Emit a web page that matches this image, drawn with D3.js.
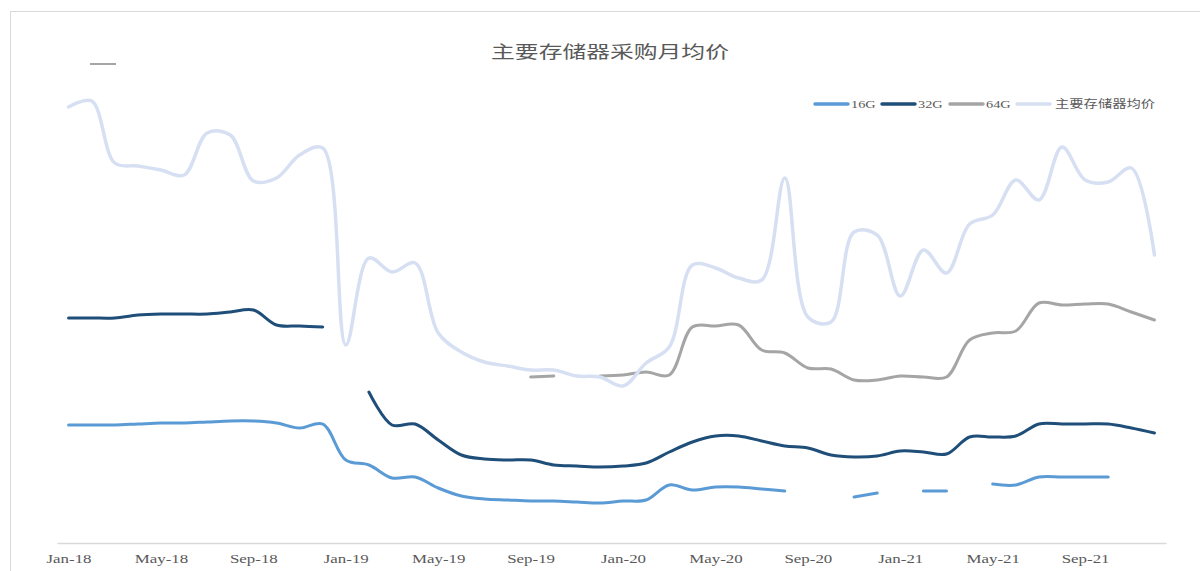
<!DOCTYPE html>
<html>
<head>
<meta charset="utf-8">
<script src="https://cdn.jsdelivr.net/npm/d3@7"></script>
<style>
  body { margin: 0; background: #fff; }
  svg { display: block; }
  text { font-family: "Liberation Serif", "Noto Sans CJK SC", serif; fill: #595959; }
</style>
</head>
<body>
<svg width="1200" height="571"></svg>
<script>
// month categories, Jan-18 .. Dec-21
const months = [
  "Jan-18","Feb-18","Mar-18","Apr-18","May-18","Jun-18","Jul-18","Aug-18","Sep-18","Oct-18","Nov-18","Dec-18",
  "Jan-19","Feb-19","Mar-19","Apr-19","May-19","Jun-19","Jul-19","Aug-19","Sep-19","Oct-19","Nov-19","Dec-19",
  "Jan-20","Feb-20","Mar-20","Apr-20","May-20","Jun-20","Jul-20","Aug-20","Sep-20","Oct-20","Nov-20","Dec-20",
  "Jan-21","Feb-21","Mar-21","Apr-21","May-21","Jun-21","Jul-21","Aug-21","Sep-21","Oct-21","Nov-21","Dec-21"
];
const tickLabels = ["Jan-18","May-18","Sep-18","Jan-19","May-19","Sep-19","Jan-20","May-20","Sep-20","Jan-21","May-21","Sep-21"];

// series values (null = no data that month)
const price16G = [
  118,118,118,119,120,120,121,122,122,120,115,119,
  83,78,65,66,55,47,44,43,42,42,41,40,
  42,43,58,53,56,56,54,52,null,null,46,50,
  null,52,52,null,59,58,66,66,66,66,null,null
];
const price32G = [
  225,225,225,228,229,229,229,231,233,218,217,216,
  null,151,118,119,103,88,84,83,83,78,77,76,
  77,80,91,101,107,107,102,97,95,88,86,87,
  92,91,89,106,106,107,119,119,119,119,115,110
];
const price64G = [
  null,null,null,null,null,null,null,null,null,null,null,null,
  null,null,null,null,null,null,null,null,166,167,null,167,
  168,171,168,216,217,218,193,190,175,174,163,163,
  167,166,166,203,210,212,240,238,239,239,231,223
];
const priceAvg = [
  436,442,380,377,373,368,410,408,362,365,388,395,
  198,285,271,280,210,191,181,177,173,173,167,166,
  157,180,196,278,275,265,263,365,226,221,311,308,
  247,293,270,319,328,363,343,396,363,361,375,288
];

const seriesNames = ["16G", "32G", "64G", "主要存储器均价"];
const seriesValues = [price16G, price32G, price64G, priceAvg];
const colors = ["#5b9bd5", "#1f4e79", "#a5a5a5", "#d6e0f2"];
const widths = [3, 3, 3, 3.5];

const svg = d3.select("svg");
const stretch = "scale(1.3,1)";

// chart frame
svg.append("rect")
  .attr("x", 10.5).attr("y", 11.5)
  .attr("width", 1200).attr("height", 600)
  .attr("fill", "none").attr("stroke", "#d9d9d9");

const x = d3.scalePoint().domain(months).range([57, 1166]).padding(0.5);
const y = d3.scaleLinear().domain([0, 500]).range([543, 43]);

// x axis
const xAxis = svg.append("g")
  .attr("transform", "translate(0,543)")
  .call(d3.axisBottom(x).tickValues(tickLabels).tickSize(0).tickSizeOuter(0).tickPadding(11));
xAxis.select(".domain").attr("stroke", "#d9d9d9").attr("stroke-width", 1.5);
xAxis.selectAll("text")
  .attr("font-size", 13)
  .attr("font-family", "Liberation Serif")
  .attr("fill", "#595959")
  .attr("transform", stretch);

// lines
const line = d3.line()
  .defined(d => d.v != null)
  .x(d => x(d.m))
  .y(d => y(d.v))
  .curve(d3.curveCatmullRom.alpha(0.5));

seriesValues.forEach((vals, i) => {
  const pts = months.map((m, j) => ({ m: m, v: vals[j] }));
  svg.append("path")
    .datum(pts)
    .attr("d", line)
    .attr("fill", "none")
    .attr("stroke", colors[i])
    .attr("stroke-width", widths[i])
    .attr("stroke-linejoin", "round")
    .attr("stroke-linecap", "round");
});

// title
svg.append("text")
  .attr("transform", "translate(610,58) " + "scale(1.4,1)")
  .attr("text-anchor", "middle")
  .attr("font-size", 17)
  .attr("font-family", "Noto Sans CJK SC")
  .text("主要存储器采购月均价");

// stray legend mark at top left
svg.append("line")
  .attr("x1", 90).attr("x2", 116)
  .attr("y1", 64).attr("y2", 64)
  .attr("stroke", "#a5a5a5").attr("stroke-width", 2);

// legend
const legendX = [815, 882, 950, 1017];
const legend = svg.append("g");
seriesNames.forEach((name, i) => {
  legend.append("line")
    .attr("x1", legendX[i]).attr("x2", legendX[i] + 33)
    .attr("y1", 104).attr("y2", 104)
    .attr("stroke", colors[i]).attr("stroke-width", 3.5)
    .attr("stroke-linecap", "round");
  legend.append("text")
    .attr("transform", `translate(${legendX[i] + (i === 3 ? 38 : 36)},108) ${stretch}`)
    .attr("font-size", 11)
    .text(name);
});
</script>
</body>
</html>
